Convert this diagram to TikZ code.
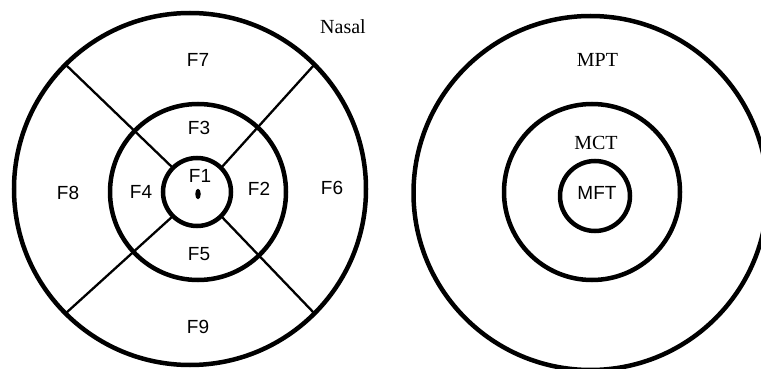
\documentclass[tikz,border=0pt]{standalone}
\usepackage{fontspec}
\usetikzlibrary{shapes.geometric}
\setmainfont{Liberation Serif}
\setsansfont{Liberation Sans}
\begin{document}
\begin{tikzpicture}[x=1pt,y=-1pt,
  ring/.style={draw, circle, line width=4.5pt, inner sep=0pt, outer sep=0pt},
  spoke/.style={line width=2.3pt},
  zone/.style={font=\sffamily\fontsize{19}{19}\selectfont, inner sep=0pt},
  mark label/.style={font=\fontsize{20}{20}\selectfont, inner sep=0pt}]
  \clip (0,0) rectangle (761,369);

  % left chart: three rings cut into sectors
  \node[ring, minimum size=352pt] (Lout) at (190,189) {};
  \node[ring, minimum size=176pt] (Lmid) at (198,192) {};
  \node[ring, minimum size=68pt]  (Lin)  at (197,192) {};
  \foreach \a in {45,135,225,315}
    \draw[spoke] (Lin.\a) -- (Lout.\a);
  \node[fill, ellipse, minimum width=5.5pt, minimum height=10.5pt, inner sep=0pt] (fovea) at (198,194) {};

  \node[zone] (f1) at (200,176) {F1};
  \node[zone] (f2) at (259,189) {F2};
  \node[zone] (f3) at (199,128) {F3};
  \node[zone] (f4) at (141,192) {F4};
  \node[zone] (f5) at (199,254) {F5};
  \node[zone] (f6) at (332,188) {F6};
  \node[zone] (f7) at (198,60)  {F7};
  \node[zone] (f8) at (68,193)  {F8};
  \node[zone] (f9) at (198,327) {F9};
  \node[mark label] (nasal) at (343,27) {Nasal};

  % right chart: concentric rings
  \node[ring, minimum size=354pt] (Rout) at (590.5,193) {};
  \node[ring, minimum size=176pt] (Rmid) at (592,192) {};
  \node[ring, minimum size=70pt]  (Rin)  at (595,196) {};
  \node[mark label] (mpt) at (597.5,60) {MPT};
  \node[mark label] (mct) at (596,143) {MCT};
  \node[zone] (mft) at (597,193) {MFT};
\end{tikzpicture}
\end{document}
